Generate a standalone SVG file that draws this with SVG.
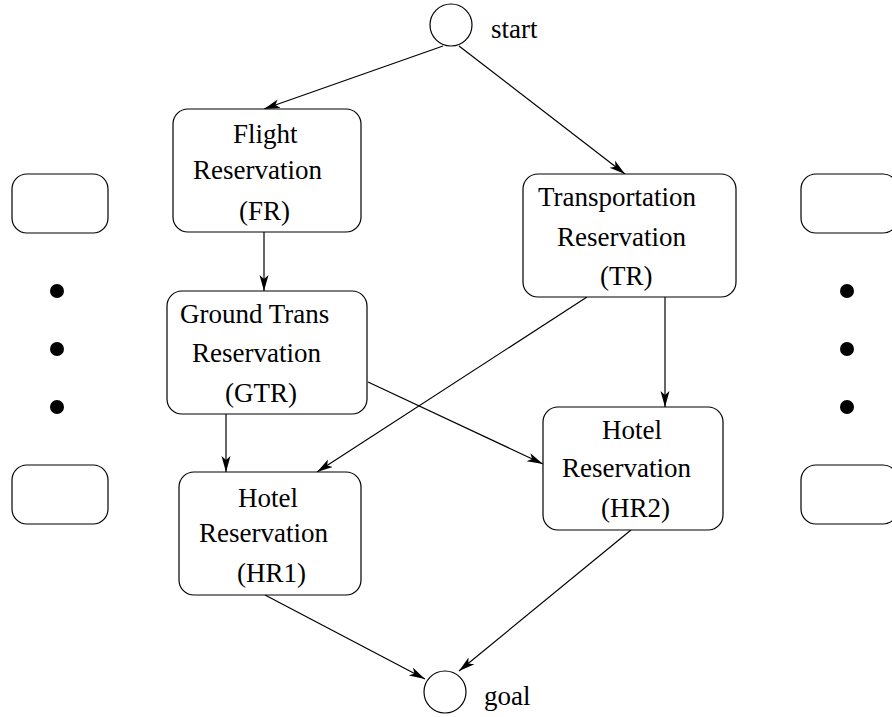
<svg xmlns="http://www.w3.org/2000/svg" width="892" height="717" viewBox="0 0 892 717">
  <style>
    .box { fill: #fff; stroke: #000; stroke-width: 1.2; }
    .dot { fill: #000; }
    .lbl { font-family: "Liberation Serif", "Times New Roman", serif; font-size: 27px; fill: #000; }
    .edge { stroke: #000; stroke-width: 1.2; fill: none; marker-end: url(#arrow); }
  </style>
  <defs>
    <marker id="arrow" markerUnits="userSpaceOnUse" markerWidth="17" markerHeight="10" refX="16" refY="4.5" orient="auto">
      <path d="M0,0 L16,4.5 L0,9 L4,4.5 z" fill="#000"/>
    </marker>
  </defs>
  <rect width="892" height="717" fill="#fff"/>

  <!-- connectors -->
  <g id="edges">
    <line class="edge" x1="443" y1="46" x2="264" y2="109"/>
    <line class="edge" x1="459" y1="46" x2="625" y2="174"/>
    <line class="edge" x1="264" y1="232" x2="264" y2="291"/>
    <line class="edge" x1="226" y1="414" x2="226" y2="472"/>
    <line class="edge" x1="368" y1="382" x2="543" y2="464"/>
    <line class="edge" x1="587" y1="297" x2="317" y2="472"/>
    <line class="edge" x1="665" y1="297" x2="665" y2="407"/>
    <line class="edge" x1="265" y1="595" x2="425" y2="679"/>
    <line class="edge" x1="631" y1="530" x2="459" y2="671"/>
  </g>

  <g id="start">
    <circle class="box" cx="451" cy="25" r="21"/>
    <text class="lbl" x="491" y="38">start</text>
  </g>

  <g id="goal">
    <circle class="box" cx="445" cy="692" r="21"/>
    <text class="lbl" x="484" y="705">goal</text>
  </g>

  <g id="FR">
    <rect class="box" x="173" y="109" width="188" height="123" rx="15"/>
    <text class="lbl" x="233" y="143">Flight</text>
    <text class="lbl" x="193" y="179">Reservation</text>
    <text class="lbl" x="239" y="220">(FR)</text>
  </g>

  <g id="TR">
    <rect class="box" x="523" y="174" width="213" height="123" rx="15"/>
    <text class="lbl" x="538" y="206">Transportation</text>
    <text class="lbl" x="557" y="246">Reservation</text>
    <text class="lbl" x="600" y="285">(TR)</text>
  </g>

  <g id="GTR">
    <rect class="box" x="167" y="291" width="200" height="123" rx="15"/>
    <text class="lbl" x="180" y="323">Ground Trans</text>
    <text class="lbl" x="192" y="362">Reservation</text>
    <text class="lbl" x="225" y="402">(GTR)</text>
  </g>

  <g id="HR2">
    <rect class="box" x="543" y="407" width="180" height="123" rx="15"/>
    <text class="lbl" x="602" y="439">Hotel</text>
    <text class="lbl" x="562" y="477">Reservation</text>
    <text class="lbl" x="601" y="517">(HR2)</text>
  </g>

  <g id="HR1">
    <rect class="box" x="179" y="472" width="182" height="123" rx="15"/>
    <text class="lbl" x="238" y="507">Hotel</text>
    <text class="lbl" x="199" y="542">Reservation</text>
    <text class="lbl" x="237" y="582">(HR1)</text>
  </g>

  <!-- elided columns on both sides -->
  <g id="left-column">
    <rect class="box" x="12" y="174" width="96" height="59" rx="15"/>
    <circle class="dot" cx="57" cy="291" r="7"/>
    <circle class="dot" cx="57" cy="349" r="7"/>
    <circle class="dot" cx="57" cy="407" r="7"/>
    <rect class="box" x="12" y="465" width="96" height="59" rx="15"/>
  </g>

  <g id="right-column">
    <rect class="box" x="801" y="174" width="97" height="59" rx="15"/>
    <circle class="dot" cx="847" cy="291" r="7"/>
    <circle class="dot" cx="847" cy="349" r="7"/>
    <circle class="dot" cx="847" cy="407" r="7"/>
    <rect class="box" x="801" y="465" width="97" height="59" rx="15"/>
  </g>
</svg>
